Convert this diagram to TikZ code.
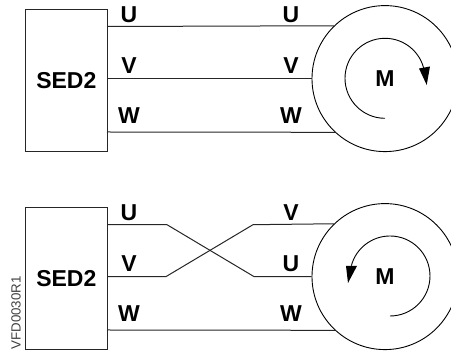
\documentclass[tikz,border=0pt]{standalone}
\usepackage{fontspec}
\setmainfont{Liberation Sans}
\tikzset{
 x=1pt,y=-1pt,
 wire/.style={line width=1pt,black!85},
 sedbox/.style={draw=black!85,line width=1pt,rectangle,minimum width=81.5pt,minimum height=141.5pt,inner sep=0pt,font=\bfseries\fontsize{23}{23}\selectfont},
 motor/.style={draw=black,line width=0.9pt,circle,minimum size=146pt,inner sep=0pt,font=\bfseries\fontsize{23}{23}\selectfont},
 phase/.style={inner sep=0pt,font=\bfseries\fontsize{23}{23}\selectfont},
 rot/.style={line width=0.9pt,black},
 tipfill/.style={fill=black,draw=none},
}
\begin{document}
\begin{tikzpicture}
\useasboundingbox (0,0) rectangle (451,352);
% top
\node[sedbox] (s1) at (66.3,80.3) {SED2};
\node[motor] (m1) at (385,78.6) {};
\node[phase] (mt1) at (385,78.6) {M};
\coordinate (s1u) at (107,26.5); \coordinate (s1v) at (107,78.6); \coordinate (s1w) at (107,132);
\draw[wire] (s1u) -- (m1.134.5);
\draw[wire] (s1v) -- (m1.west);
\draw[wire] (s1w) -- (m1.227);
\node[phase] (l1) at (129,15) {U};
\node[phase] (l2) at (129,66) {V};
\node[phase] (l3) at (129,116) {W};
\node[phase] (l4) at (291,15) {U};
\node[phase] (l5) at (291,66) {V};
\node[phase] (l6) at (291,116) {W};
\draw[rot] (385,118.3) arc[start angle=90,end angle=350,radius=40];
\coordinate (a1) at (419,68.5); \coordinate (a2) at (430,66.5); \coordinate (a3) at (426.7,85);
\fill[tipfill] (a1) -- (a2) -- (a3) -- cycle;
% bottom
\node[sedbox] (s2) at (66.3,278.3) {SED2};
\node[motor] (m2) at (385,276.6) {};
\node[phase] (mt2) at (385,276.6) {M};
\coordinate (s2u) at (107,224.7); \coordinate (s2v) at (107,276.6); \coordinate (s2w) at (107,330);
\coordinate (u1) at (167,224.7); \coordinate (u2) at (254,276.6);
\coordinate (v1) at (166,276.6); \coordinate (v2) at (253,224.7);
\draw[wire] (s2u) -- (u1) -- (u2) -- (m2.west);
\draw[wire] (s2v) -- (v1) -- (v2) -- (m2.134.5);
\draw[wire] (s2w) -- (m2.227);
\node[phase] (l7) at (129,213) {U};
\node[phase] (l8) at (129,264) {V};
\node[phase] (l9) at (129,314) {W};
\node[phase] (l10) at (291,213) {V};
\node[phase] (l11) at (291,264) {U};
\node[phase] (l12) at (291,314) {W};
\draw[rot] (390,316) arc[start angle=90,end angle=-165,radius=40];
\coordinate (b1) at (346,266); \coordinate (b2) at (357,266); \coordinate (b3) at (348,283);
\fill[tipfill] (b1) -- (b2) -- (b3) -- cycle;
\node[rotate=90,inner sep=0pt,text=black!75,font=\fontsize{13.3}{13.3}\selectfont] (id) at (16,313) {VFD0030R1};
\end{tikzpicture}
\end{document}
